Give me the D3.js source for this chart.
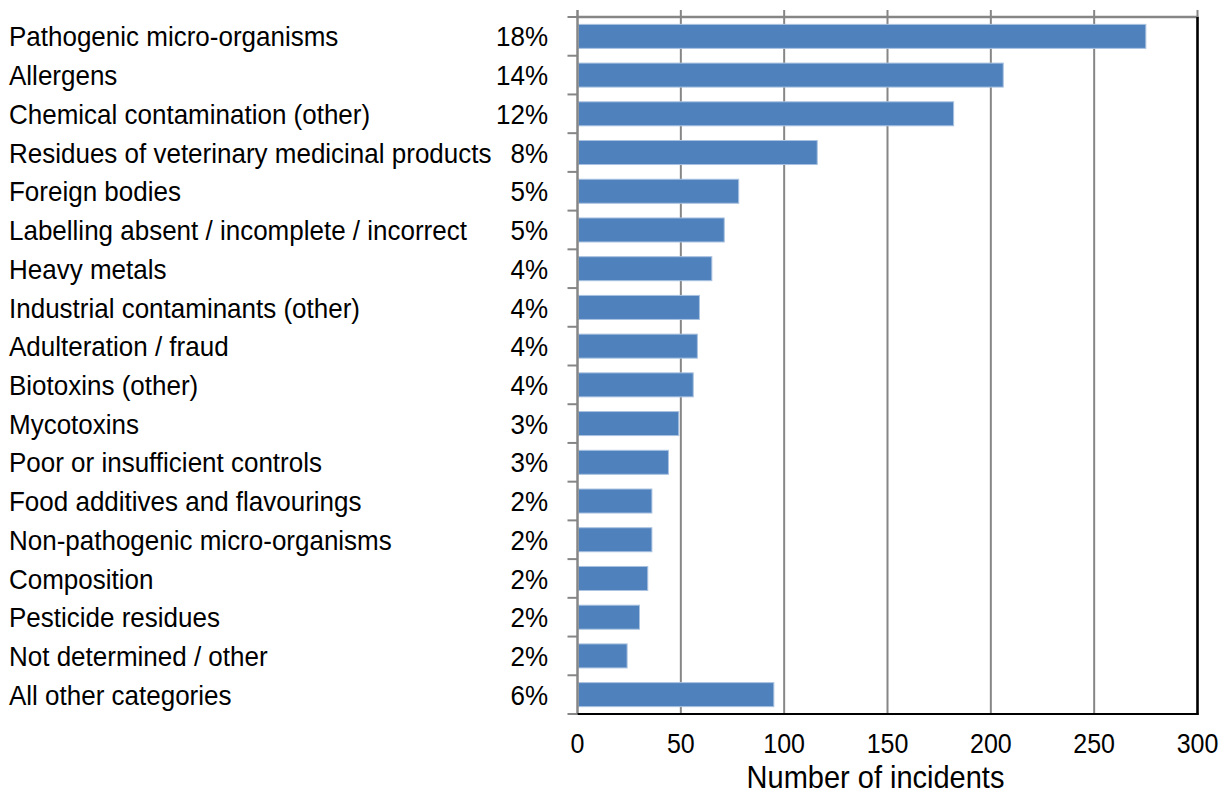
<!DOCTYPE html>
<html>
<head>
<meta charset="utf-8">
<script src="https://cdn.jsdelivr.net/npm/d3@7"></script>
<style>
  html, body { margin: 0; padding: 0; background: #fff; }
  svg { display: block; }
  text { font-family: "Liberation Sans", Arial, sans-serif; fill: #000; }
</style>
</head>
<body>
<svg id="chart" width="1226" height="795"></svg>
<script>
const categories = [
  "Pathogenic micro-organisms",
  "Allergens",
  "Chemical contamination (other)",
  "Residues of veterinary medicinal products",
  "Foreign bodies",
  "Labelling absent / incomplete / incorrect",
  "Heavy metals",
  "Industrial contaminants (other)",
  "Adulteration / fraud",
  "Biotoxins (other)",
  "Mycotoxins",
  "Poor or insufficient controls",
  "Food additives and flavourings",
  "Non-pathogenic micro-organisms",
  "Composition",
  "Pesticide residues",
  "Not determined / other",
  "All other categories"
];
const incidents = [275, 206, 182, 116, 78, 71, 65, 59, 58, 56, 49, 44, 36, 36, 34, 30, 24, 95];
const shares = ["18%", "14%", "12%", "8%", "5%", "5%", "4%", "4%", "4%", "4%", "3%", "3%", "2%", "2%", "2%", "2%", "2%", "6%"];
const xTicks = [0, 50, 100, 150, 200, 250, 300];
const xTitle = "Number of incidents";

const svg = d3.select("#chart");
const m = { left: 577.5, right: 1197.5, top: 17, bottom: 714 };

const x = d3.scaleLinear().domain([0, 300]).range([m.left, m.right]);
const y = d3.scaleBand().domain(categories).range([m.top, m.bottom]).paddingInner(0.38).paddingOuter(0.19);

const grey = "#868686";
const stretch = 1.08;

// gridlines (with small tick stubs above the top)
svg.append("g").selectAll("line").data(xTicks.slice(1)).join("line")
  .attr("x1", d => x(d)).attr("x2", d => x(d))
  .attr("y1", m.top - 7).attr("y2", m.bottom)
  .attr("stroke", grey).attr("stroke-width", 2);

// top axis line
svg.append("line").attr("x1", m.left - 1).attr("x2", m.right + 1)
  .attr("y1", m.top).attr("y2", m.top).attr("stroke", grey).attr("stroke-width", 2.5);

// bars
svg.append("g").selectAll("rect").data(categories).join("rect")
  .attr("x", x(0) + 1)
  .attr("y", d => y(d))
  .attr("width", (d, i) => x(incidents[i]) - x(0) - 1)
  .attr("height", y.bandwidth())
  .attr("fill", "#4f81bd")
  .attr("stroke", "#a9c2e0").attr("stroke-width", 1);

// left axis line + ticks at band boundaries
svg.append("line").attr("x1", m.left).attr("x2", m.left)
  .attr("y1", m.top - 7).attr("y2", m.bottom)
  .attr("stroke", grey).attr("stroke-width", 2.5);
const boundaries = d3.range(categories.length + 1).map(i => m.top + i * y.step());
svg.append("g").selectAll("line").data(boundaries).join("line")
  .attr("x1", m.left - 10).attr("x2", m.left)
  .attr("y1", d => d).attr("y2", d => d)
  .attr("stroke", grey).attr("stroke-width", 2);

// bottom and right borders (black)
svg.append("line").attr("x1", m.left).attr("x2", m.right + 1)
  .attr("y1", m.bottom).attr("y2", m.bottom).attr("stroke", "#000").attr("stroke-width", 2);
svg.append("line").attr("x1", m.right).attr("x2", m.right)
  .attr("y1", m.top).attr("y2", m.bottom + 1).attr("stroke", "#000").attr("stroke-width", 2.5);

// category labels
svg.append("g").selectAll("text").data(categories).join("text")
  .attr("transform", d => `translate(9,${y(d) + y.bandwidth() / 2}) scale(1,${stretch})`)
  .attr("dy", "0.36em")
  .attr("font-size", 26)
  .text(d => d);

// share labels
svg.append("g").selectAll("text").data(categories).join("text")
  .attr("transform", d => `translate(548,${y(d) + y.bandwidth() / 2}) scale(1,${stretch})`)
  .attr("dy", "0.36em")
  .attr("text-anchor", "end")
  .attr("font-size", 26)
  .text((d, i) => shares[i]);

// x tick labels
svg.append("g").selectAll("text").data(xTicks).join("text")
  .attr("transform", d => `translate(${x(d)},753) scale(1,${stretch})`)
  .attr("text-anchor", "middle")
  .attr("font-size", 25)
  .text(d => d);

// x title
svg.append("text")
  .attr("transform", `translate(${(m.left + m.right) / 2 - 12},788) scale(1,${stretch})`)
  .attr("text-anchor", "middle")
  .attr("font-size", 29)
  .text(xTitle);
</script>
</body>
</html>
